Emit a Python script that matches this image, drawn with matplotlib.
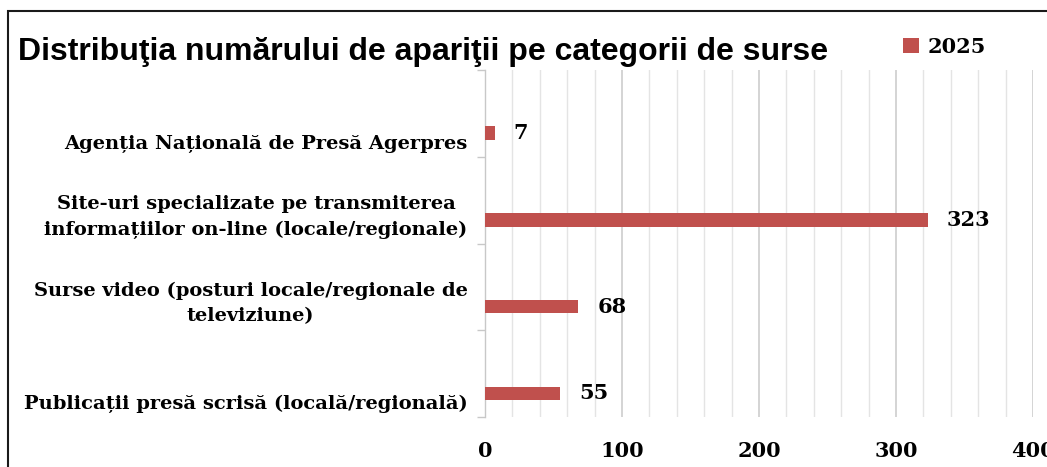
import matplotlib
matplotlib.use("Agg")
import matplotlib.pyplot as plt
from matplotlib.patches import Rectangle
import numpy as np

# ---- data ----
categories = [
    "Agenția Națională de Presă Agerpres",
    "Site-uri specializate pe transmiterea\ninformațiilor on-line (locale/regionale)",
    "Surse video (posturi locale/regionale de\nteleviziune)",
    "Publicații presă scrisă (locală/regională)",
]
values = [7, 323, 68, 55]
series_name = "2025"
xticks = [0, 100, 200, 300, 400]
title = "Distribuţia numărului de apariţii pe categorii de surse"

W, H = 1047, 467
BAR_COLOR = "#C0504D"
SERIF = ["DejaVu Serif"]

fig = plt.figure(figsize=(W / 100, H / 100), dpi=100)
fig.patch.set_facecolor("white")

# axes placement (pixels)
left, right, bottom, top = 485, 1033, 417, 70
ax = fig.add_axes([left / W, (H - bottom) / H, (right - left) / W, (bottom - top) / H])

ypos = np.arange(len(categories))
offset = 0.228
bar_h = 0.156
bars = ax.barh(ypos + offset, values, height=bar_h, color=BAR_COLOR, label=series_name, zorder=3)

ax.set_xlim(0, 400)
ax.set_ylim(len(categories) - 0.5, -0.5)

# gridlines
ax.set_xticks(xticks)
ax.set_xticks(np.arange(0, 401, 20), minor=True)
ax.grid(axis="x", which="minor", color="#e4e4e4", linewidth=1.0, zorder=0)
ax.grid(axis="x", which="major", color="#cdcdcd", linewidth=1.2, zorder=0)

for s in ["top", "right", "bottom"]:
    ax.spines[s].set_visible(False)
ax.spines["left"].set_color("#c8c8c8")
ax.spines["left"].set_linewidth(1.0)

ax.set_xticklabels([str(t) for t in xticks], fontfamily=SERIF, fontweight="bold", fontsize=15)
ax.tick_params(axis="x", which="both", length=0, pad=17)

# y ticks at band boundaries
ax.set_yticks([])
ax.set_yticks(np.arange(-0.5, len(categories), 1.0), minor=True)
ax.tick_params(axis="y", which="minor", length=6, color="#c8c8c8", width=1.0)

# category labels
for i, lab in enumerate(categories):
    multi = "\n" in lab
    txt = lab if multi else "\n" + lab
    ax.annotate(txt, xy=(0, i + offset), xycoords=("axes fraction", "data"),
                xytext=(-12.5, 2.2 if multi else 1.5), textcoords="offset points",
                ha="right", va="center", multialignment="center",
                fontfamily=SERIF, fontweight="bold", fontsize=14, linespacing=1.5)

# value labels
for i, v in enumerate(values):
    ax.annotate(str(v), xy=(v, i + offset), xytext=(13.7, 0), textcoords="offset points",
                ha="left", va="center", fontfamily=SERIF, fontweight="bold", fontsize=15)

# title
fig.text(18 / W, (H - 60) / H, title, fontfamily=["Liberation Sans", "DejaVu Sans"],
         fontweight="bold", fontsize=23, ha="left", va="baseline")

# legend
leg = fig.legend(handles=[bars], labels=[series_name], loc="upper left",
                 bbox_to_anchor=(903 / W, (H - 37) / H), frameon=False,
                 prop={"family": SERIF, "weight": "bold", "size": 15},
                 handlelength=0.77, handleheight=0.7, handletextpad=0.43,
                 borderpad=0, borderaxespad=0)

# outer frame (cropped on right and bottom)
fig.patches.append(Rectangle((7.5 / W, -1), 2, (H - 10.5) / H + 1, transform=fig.transFigure,
                             fill=False, edgecolor="#1a1a1a", linewidth=1.5))

fig.savefig("out.png", dpi=100)
